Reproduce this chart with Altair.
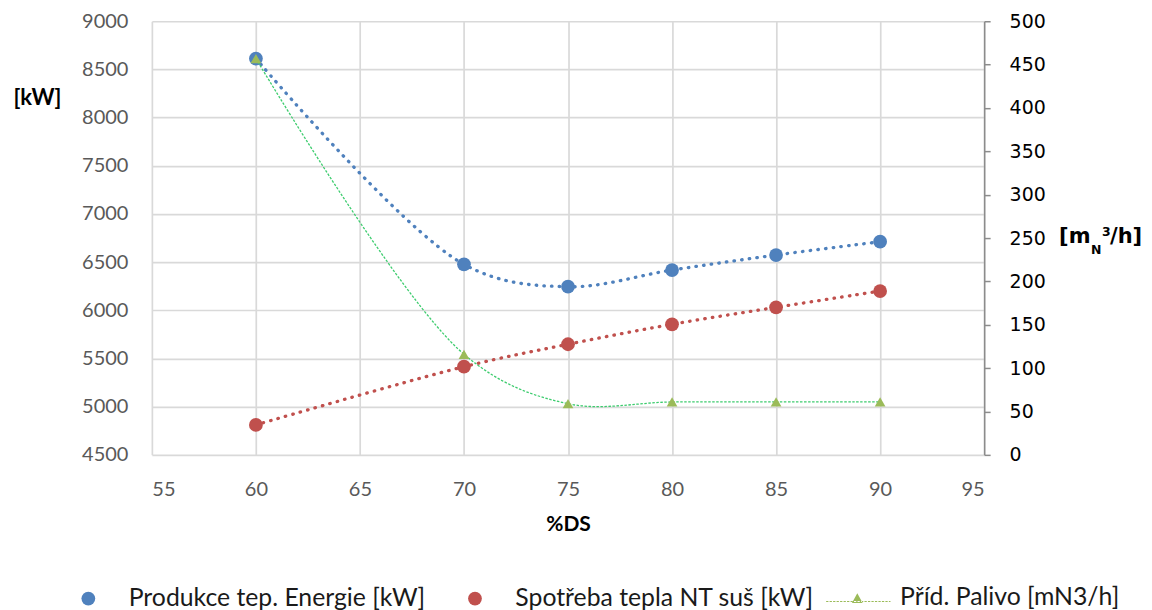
import altair as alt
import pandas as pd

# ---- data ----
ds = [60, 70, 75, 80, 85, 90]
produkce = [8613, 6477, 6245, 6418, 6574, 6712]          # [kW], left axis
spotreba = [4811, 5415, 5648, 5855, 6031, 6200]          # [kW], left axis
palivo = [457, 116, 59, 61, 61, 61]                      # [mN3/h], right axis

kw_names = ["Produkce tep. Energie [kW]", "Spotřeba tepla NT suš [kW]"]
kw_colors = ["#4F81BD", "#C0504D"]
fuel_name = ["Příd. Palivo [mN3/h]"]

x_ticks = [55, 60, 65, 70, 75, 80, 85, 90, 95]
left_ticks = [4500, 5000, 5500, 6000, 6500, 7000, 7500, 8000, 8500, 9000]
right_ticks = [0, 50, 100, 150, 200, 250, 300, 350, 400, 450, 500]

df = pd.DataFrame({"ds": ds, "produkce": produkce, "spotreba": spotreba, "palivo": palivo})

BLUE, RED, GREEN_MK, GREEN_LN = "#4F81BD", "#C0504D", "#9BBB59", "#3DCC6E"
GRID = "#D9D9D9"
INTERP = "catmull-rom"

x_enc = alt.X(
    "ds:Q",
    scale=alt.Scale(domain=[55, 95], nice=False, zero=False),
    axis=alt.Axis(
        values=x_ticks, grid=True, gridColor=GRID, gridWidth=1.7,
        domain=False, ticks=False, tickSize=0, format="d",
        labelFont="Lato", labelFontSize=20, labelColor="#595959", labelPadding=25,
        title="%DS", titleFont="Lato", titleFontSize=21, titleFontWeight="bold",
        titleColor="#000000", titlePadding=14,
    ),
)

left_axis = alt.Axis(
    values=left_ticks, grid=True, gridColor=GRID, gridWidth=1.7, format="d",
    domain=False, ticks=False, tickSize=0, orient="left",
    labelFont="Lato", labelFontSize=20, labelColor="#595959", labelPadding=24,
    title="[kW]", titleFont="Lato", titleFontSize=22, titleFontWeight="bold",
    titleColor="#000000", titleAngle=0, titleX=-115, titleY=76,
    titleAlign="center", titleBaseline="middle",
)
left_scale = alt.Scale(domain=[4500, 9000], nice=False, zero=False)

right_axis = alt.Axis(
    values=right_ticks, grid=False, orient="right", format="d",
    domain=True, domainColor="#8C8C8C", domainWidth=1.5,
    ticks=True, tickColor="#8C8C8C", tickWidth=1.5, tickSize=6,
    labelFont="DejaVu Sans", labelFontSize=19, labelColor="#000000", labelPadding=19,
    title="",
)
right_scale = alt.Scale(domain=[0, 500], nice=False, zero=False)

base = alt.Chart(df)

dot_line = dict(interpolate=INTERP, strokeWidth=3.3, strokeDash=[0.5, 7.2], strokeCap="round")

blue_line = base.mark_line(color=BLUE, **dot_line).encode(
    x=x_enc, y=alt.Y("produkce:Q", scale=left_scale, axis=left_axis))
red_line = base.mark_line(color=RED, **dot_line).encode(
    x=x_enc, y=alt.Y("spotreba:Q", scale=left_scale, axis=left_axis))
blue_pts = base.mark_circle(color=BLUE, size=190, opacity=1).encode(
    x=x_enc, y=alt.Y("produkce:Q", scale=left_scale, axis=left_axis))
red_pts = base.mark_circle(color=RED, size=190, opacity=1).encode(
    x=x_enc, y=alt.Y("spotreba:Q", scale=left_scale, axis=left_axis))

left = alt.layer(red_line, blue_line, red_pts, blue_pts)

green_line = base.mark_line(color=GREEN_LN, interpolate=INTERP, strokeWidth=1.3,
                            strokeDash=[2.5, 1.5]).encode(
    x=x_enc, y=alt.Y("palivo:Q", scale=right_scale, axis=right_axis))
green_pts = base.mark_point(shape="triangle-up", filled=True, color=GREEN_MK, size=115,
                            opacity=1).encode(
    x=x_enc, y=alt.Y("palivo:Q", scale=right_scale, axis=right_axis))

right = alt.layer(green_line, green_pts)

# ---- legends ----
LEG_FONT = dict(labelFont="Lato", labelFontSize=24.8, labelColor="#1A1A1A", labelLimit=1000,
                symbolStrokeWidth=0, symbolOpacity=1, labelOffset=28, padding=0, title=None)

leg_kw = alt.Legend(orient="none", legendX=-76, legendY=565, direction="horizontal",
                    symbolSize=190, columnPadding=37, **LEG_FONT)
legend_kw = alt.Chart(pd.DataFrame({"series": kw_names})).mark_point(
    filled=True, shape="circle", opacity=0).encode(
    color=alt.Color("series:N", scale=alt.Scale(domain=kw_names, range=kw_colors), legend=leg_kw),
)

# symbol: dashed line with a triangle (unit coordinates, scaled by sqrt(size)/2)
parts = []
xs = -5.0
while xs < 4.6:
    xe = min(xs + 0.34, 4.6)
    parts.append(f"M{xs:.2f},0.42L{xe:.2f},0.42L{xe:.2f},0.58L{xs:.2f},0.58Z")
    xs += 0.52
parts.append("M-1.15,0.72L0.45,0.72L-0.35,-0.72Z")
line_tri = "".join(parts)

leg_fuel = alt.Legend(orient="none", legendX=696, legendY=565, direction="horizontal",
                      symbolSize=180, **LEG_FONT)
legend_fuel = alt.Chart(pd.DataFrame({"series": fuel_name})).mark_point(
    filled=True, color=GREEN_MK, opacity=0).encode(
    shape=alt.Shape("series:N", scale=alt.Scale(domain=fuel_name, range=[line_tri]), legend=leg_fuel),
)

# right axis title  [m_N^3/h]
def txt(s, x, y, size):
    return alt.Chart(pd.DataFrame({"t": [s]})).mark_text(
        font="DejaVu Sans", fontWeight="bold", fontSize=size, align="left",
        baseline="alphabetic", color="#000000",
    ).encode(text="t:N", x=alt.value(x), y=alt.value(y))

t1 = txt("[m", 908, 222, 21)
t2 = txt("N", 940, 233, 12.5)
t3 = txt("3", 951, 215, 12.5)
t4 = txt("/h]", 959, 222, 21)

chart = alt.layer(left, right, legend_kw, legend_fuel, t1, t2, t3, t4).resolve_scale(
    y="independent", color="independent", shape="independent"
).properties(
    width=833, height=434,
    padding={"left": 144, "top": 13, "right": 160, "bottom": 155},
    autosize=alt.AutoSizeParams(type="none"),
    background="#FFFFFF",
).configure_view(strokeWidth=0)

chart.save("out.html", embed_options={"renderer": "svg", "actions": False})
